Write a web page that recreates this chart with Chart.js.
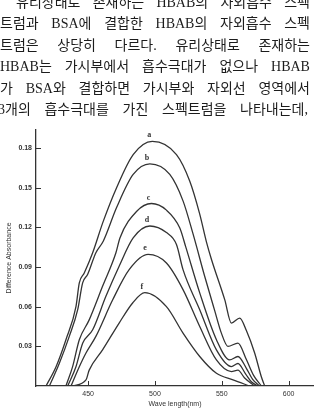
<!DOCTYPE html>
<html>
<head>
<meta charset="utf-8">
<script src="https://cdn.jsdelivr.net/npm/chart.js@4"></script>
<style>
  html, body { margin: 0; padding: 0; background: #fff; overflow: hidden; }
  #wrap { position: relative; width: 314px; height: 411px; }
  #chartBox { position: absolute; left: 0; top: 0; width: 314px; height: 411px; }
  .line {
    position: absolute; left: 0; width: 310px; height: 20px; line-height: 20px;
    display: flex; justify-content: space-between; white-space: nowrap;
    font-family: "Liberation Serif", "Noto Sans CJK KR", serif; font-size: 14px; color: #1c1c1c;
  }
</style>
</head>
<body>
<div id="wrap">
  <div id="chartBox"><canvas id="spectrum"></canvas></div>
  <div id="text"></div>
</div>
<script>
// paragraph above the figure
const textLines = [
  '유리상태로 존재하는 HBAB의 자외흡수 스펙',
  '트럼과 BSA에 결합한 HBAB의 자외흡수 스펙',
  '트럼은 상당히 다르다. 유리상태로 존재하는',
  'HBAB는 가시부에서 흡수극대가 없으나 HBAB',
  '가 BSA와 결합하면 가시부와 자외선 영역에서',
  '3개의 흡수극대를 가진 스펙트럼을 나타내는데,'
];

// tick labels
const xTicks = [450, 500, 550, 600];
const yTicks = [0.03, 0.06, 0.09, 0.12, 0.15, 0.18];

// curves a..f (wavelength nm / difference absorbance)
const aNm  = [418.5, 426.0, 433.4, 440.9, 443.4, 447.1, 453.4, 461.3, 471.3, 483.7, 498.0, 516.1, 526.0, 533.5, 538.5, 542.3, 552.2, 557.2, 563.4, 568.4, 574.6, 579.6, 582.1];
const aAbs = [0, 0.0146, 0.035, 0.060, 0.078, 0.0855, 0.1008, 0.1245, 0.150, 0.175, 0.185, 0.175, 0.155, 0.13, 0.109, 0.0957, 0.0653, 0.0476, 0.0514, 0.042, 0.025, 0.007, 0];

const bNm  = [421.0, 428.4, 435.9, 442.2, 445.9, 449.6, 455.8, 461.3, 471.3, 483.7, 496.2, 511.1, 521.0, 528.5, 537.2, 544.7, 549.7, 554.6, 562.1, 568.4, 573.8, 579.6];
const bAbs = [0, 0.017, 0.0375, 0.0577, 0.078, 0.0843, 0.1008, 0.1095, 0.135, 0.160, 0.168, 0.160, 0.14, 0.115, 0.083, 0.057, 0.040, 0.030, 0.0324, 0.020, 0.008, 0];

const cNm  = [433.4, 438.4, 443.4, 450.8, 460.8, 470.8, 473.8, 486.2, 497.4, 508.6, 518.6, 523.1, 533.5, 546.0, 555.9, 562.1, 568.4, 573.1, 578.3];
const cAbs = [0, 0.0146, 0.035, 0.050, 0.0754, 0.1008, 0.112, 0.132, 0.138, 0.133, 0.1195, 0.105, 0.0704, 0.035, 0.0197, 0.0223, 0.0134, 0.005, 0];

const dNm  = [434.7, 440.9, 445.9, 453.4, 463.3, 473.2, 483.7, 496.2, 508.6, 516.1, 521.0, 533.5, 546.0, 557.2, 562.1, 567.9, 572.3, 577.1];
const dAbs = [0, 0.0146, 0.0323, 0.0425, 0.0678, 0.0906, 0.112, 0.121, 0.116, 0.107, 0.088, 0.0577, 0.0273, 0.0147, 0.017, 0.009, 0.003, 0];

const eNm  = [437.2, 443.4, 448.4, 455.8, 468.3, 480.7, 494.9, 508.6, 521.0, 533.5, 546.0, 557.2, 562.1, 567.1, 574.6];
const eAbs = [0, 0.0146, 0.025, 0.0375, 0.065, 0.088, 0.0995, 0.093, 0.0729, 0.045, 0.0197, 0.0109, 0.012, 0.006, 0];

const fNm  = [438.4, 448.4, 450.8, 460.8, 473.2, 483.3, 492.4, 508.6, 521.0, 533.5, 546.0, 558.4, 570.9];
const fAbs = [0, 0.0046, 0.012, 0.0273, 0.0476, 0.0628, 0.0706, 0.060, 0.040, 0.0223, 0.0096, 0.0046, 0];

const curveNames = ['a', 'b', 'c', 'd', 'e', 'f'];

document.addEventListener("DOMContentLoaded", () => {
  // 1. paragraph text, one justified row per line
  const textBox = document.getElementById('text');
  textLines.forEach((line, i) => {
    const row = document.createElement('div');
    row.className = 'line';
    row.style.top = (-7 + i * 21.4) + 'px';
    if (i === 0) { row.style.left = '16px'; row.style.width = '294px'; }
    if (i === 5) { row.style.left = '-2px'; row.style.width = '310px'; }
    line.split(' ').forEach(w => {
      const s = document.createElement('span');
      s.textContent = w;
      row.appendChild(s);
    });
    textBox.appendChild(row);
  });

  // 2. chart
  const series = [[aNm, aAbs], [bNm, bAbs], [cNm, cAbs], [dNm, dAbs], [eNm, eAbs], [fNm, fAbs]];
  const datasets = series.map(([nm, abs], i) => ({
    label: curveNames[i],
    data: nm.map((x, k) => ({ x: x, y: abs[k] })),
    borderColor: '#333',
    borderWidth: 1.3,
    pointRadius: 0,
    cubicInterpolationMode: 'monotone',
    fill: false
  }));

  // inside tick marks + curve letters
  const figureMarks = {
    id: 'figureMarks',
    afterDatasetsDraw(chart) {
      const { ctx, chartArea, scales: { x, y } } = chart;
      ctx.save();
      ctx.strokeStyle = '#333';
      ctx.lineWidth = 1;
      ctx.beginPath();
      x.ticks.forEach(t => {
        const px = Math.round(x.getPixelForValue(t.value)) + 0.5;
        ctx.moveTo(px, chartArea.bottom);
        ctx.lineTo(px, chartArea.bottom - 5);
      });
      y.ticks.forEach(t => {
        const py = Math.round(y.getPixelForValue(t.value)) + 0.5;
        ctx.moveTo(chartArea.left, py);
        ctx.lineTo(chartArea.left + 5, py);
      });
      ctx.stroke();

      ctx.fillStyle = '#333';
      ctx.font = 'bold 8px "Liberation Serif", serif';
      ctx.textAlign = 'center';
      ctx.textBaseline = 'bottom';
      chart.data.datasets.forEach((ds, i) => {
        const meta = chart.getDatasetMeta(i);
        let top = 0;
        ds.data.forEach((p, k) => { if (p.y > ds.data[top].y) top = k; });
        const pt = meta.data[top];
        ctx.fillText(ds.label, pt.x - 3, pt.y - 2);
      });
      ctx.restore();
    }
  };

  Chart.defaults.font.family = '"Liberation Sans", Arial, sans-serif';
  Chart.defaults.color = '#333';

  new Chart(document.getElementById('spectrum'), {
    type: 'line',
    data: { datasets: datasets },
    options: {
      responsive: true,
      maintainAspectRatio: false,
      animation: false,
      layout: { padding: { top: 130, right: 0, left: 0, bottom: 0 } },
      plugins: { legend: { display: false }, tooltip: { enabled: false } },
      scales: {
        x: {
          type: 'linear',
          min: 411,
          max: 619,
          afterBuildTicks: s => { s.ticks = xTicks.map(v => ({ value: v })); },
          afterFit: s => { s.height = 25; },
          grid: { display: false, drawTicks: false },
          border: { display: true, color: '#333', width: 1.3 },
          ticks: { font: { size: 7 }, padding: 4, maxRotation: 0 },
          title: { display: true, text: 'Wave length(nm)', font: { size: 7 }, padding: { top: 0, bottom: 3 } }
        },
        y: {
          min: 0,
          max: 0.1936,
          afterBuildTicks: s => { s.ticks = yTicks.map(v => ({ value: v })); },
          afterFit: s => { s.width = 36; },
          grid: { display: false, drawTicks: false },
          border: { display: true, color: '#333', width: 1.3 },
          ticks: { font: { size: 7, weight: 'bold' }, padding: 4, callback: v => v.toFixed(2) },
          title: { display: true, text: 'Difference Absorbance', font: { size: 7 }, padding: { top: 5, bottom: 0 } }
        }
      }
    },
    plugins: [figureMarks]
  });
});
</script>
</body>
</html>
